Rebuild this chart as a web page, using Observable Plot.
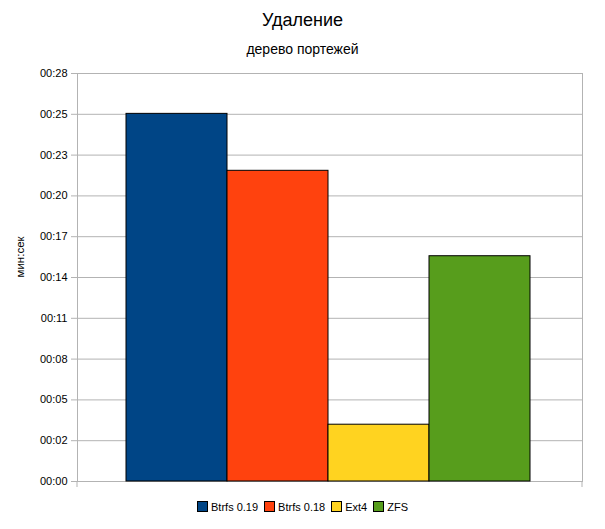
<!DOCTYPE html>
<html>
<head>
<meta charset="utf-8">
<script src="https://cdn.jsdelivr.net/npm/d3@7"></script>
<script src="https://cdn.jsdelivr.net/npm/@observablehq/plot@0.6"></script>
<style>
  html, body { margin: 0; padding: 0; background: #fff; }
  body { width: 605px; height: 529px; font-family: "Liberation Sans", Arial, sans-serif; color: #000; }
  #title { position: absolute; left: 0; width: 605px; top: 9px; text-align: center; font-size: 18px; line-height: 22px; }
  #subtitle { position: absolute; left: 0; width: 605px; top: 40px; text-align: center; font-size: 14px; line-height: 18px; }
  #chart { position: absolute; left: 0; top: 60px; }
  #legend { position: absolute; left: 0; width: 605px; top: 500px; text-align: center; font-size: 11px; line-height: 14px; }
  .item { display: inline-block; margin: 0 3px; white-space: nowrap; }
  .sw { display: inline-block; width: 9px; height: 9px; border: 1px solid #000; vertical-align: -1px; margin-right: 3px; }
</style>
</head>
<body>
<div id="title">Удаление</div>
<div id="subtitle">дерево портежей</div>
<div id="chart"></div>
<div id="legend"></div>
<script>
const series = ["Btrfs 0.19", "Btrfs 0.18", "Ext4", "ZFS"];
const seconds = [25.05, 21.17, 3.87, 15.35];
const colors = ["#004586", "#ff420e", "#ffd320", "#579d1c"];
const tickLabels = ["00:00", "00:02", "00:05", "00:08", "00:11", "00:14", "00:17", "00:20", "00:23", "00:25", "00:28"];
const tickStep = 2.78;

const data = series.map((s, i) => ({ series: s, value: seconds[i] }));
const tickValues = tickLabels.map((_, i) => i * tickStep);
const yMax = tickValues[tickValues.length - 1];
const grid = "#b3b3b3";

const bottomStubs = (index, scales, values, dimensions) => {
  const g = d3.create("svg:g").attr("stroke", grid).attr("stroke-width", 1);
  const y0 = scales.y(0);
  for (const x of [dimensions.marginLeft, dimensions.width - dimensions.marginRight]) {
    g.append("line").attr("x1", x).attr("x2", x).attr("y1", y0).attr("y2", y0 + 6);
  }
  return g.node();
};

const chart = Plot.plot({
  width: 605,
  height: 433,
  marginTop: 13,
  marginBottom: 12,
  marginLeft: 77,
  marginRight: 23,
  style: { fontFamily: "'Liberation Sans', Arial, sans-serif", fontSize: "11px", color: "#000", background: "#fff" },
  x: { domain: series, paddingInner: 0, paddingOuter: 0.5, align: 0.49, axis: null },
  y: { domain: [0, yMax], axis: null },
  color: { domain: series, range: colors },
  marks: [
    Plot.ruleY(tickValues, { stroke: grid, strokeOpacity: 1 }),
    Plot.frame({ stroke: grid, strokeOpacity: 1 }),
    Plot.axisY({
      ticks: tickValues,
      tickFormat: (d, i) => tickLabels[i],
      tickSize: 6,
      tickPadding: 4,
      stroke: grid,
      strokeOpacity: 1,
      fill: "#000",
      label: null,
      fontSize: 11
    }),
    bottomStubs,
    Plot.barY(data, { x: "series", y: "value", fill: "series", stroke: "#000", strokeWidth: 1 }),
    Plot.text(["мин:сек"], { frameAnchor: "left", dx: -57, rotate: -90, fontSize: 11.5, fill: "#000" })
  ]
});
document.getElementById("chart").appendChild(chart);

const legend = document.getElementById("legend");
series.forEach((s, i) => {
  const item = document.createElement("span");
  item.className = "item";
  const sw = document.createElement("span");
  sw.className = "sw";
  sw.style.background = colors[i];
  item.appendChild(sw);
  item.appendChild(document.createTextNode(s));
  legend.appendChild(item);
});
</script>
</body>
</html>
